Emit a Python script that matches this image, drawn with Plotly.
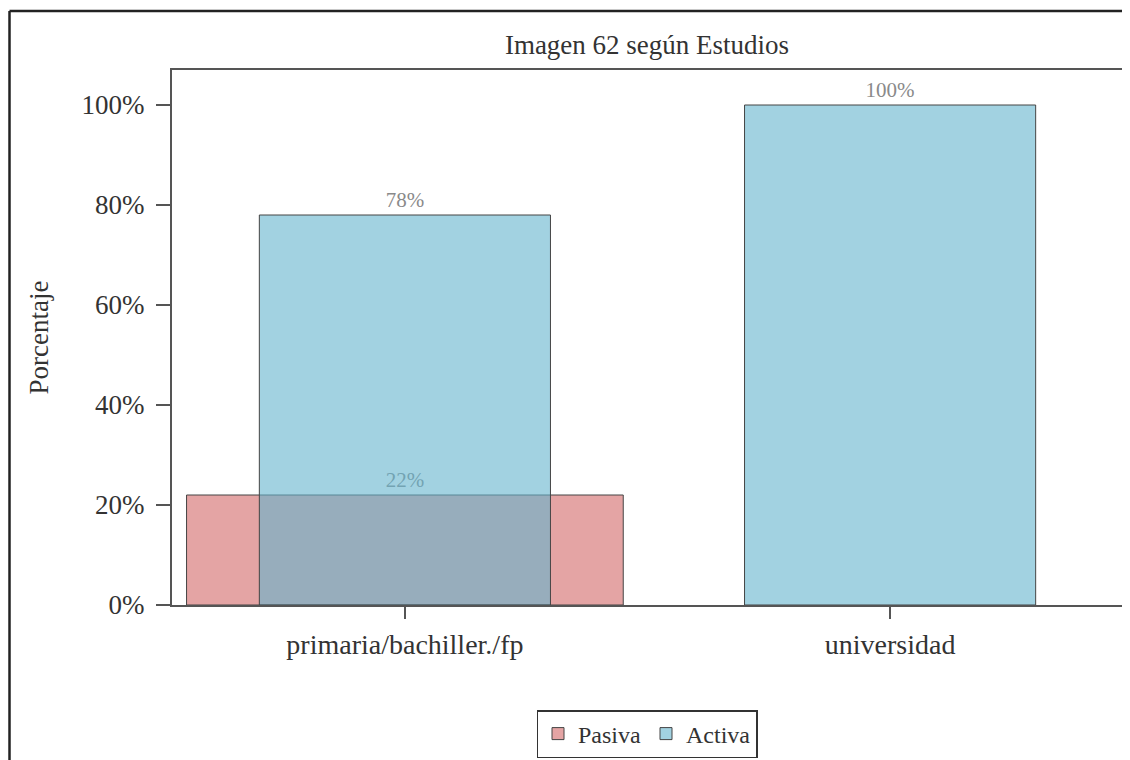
import plotly.graph_objects as go

categories = ["primaria/bachiller./fp", "universidad"]
pasiva = [0.22, None]
activa = [0.78, 1.00]
series_names = ["Pasiva", "Activa"]
title_text = "Imagen 62 según Estudios"
y_title = "Porcentaje"
y_ticks = [0, 0.2, 0.4, 0.6, 0.8, 1.0]

FONT = "Liberation Serif, Times New Roman, serif"

# page body has an 8px margin: figure pixel = reference pixel - 8
OFF = 8
W, H = 1130 - OFF, 760 - OFF
ml = 172 - OFF
mt = 70 - OFF
plot_right = 1123 - OFF
plot_bottom = 605 - OFF
mr = W - plot_right
mb = H - plot_bottom
pw, ph = W - ml - mr, H - mt - mb

def px_to_paper_x(px):
    return (px - OFF - ml) / pw

def px_to_paper_y(py):
    return (plot_bottom - (py - OFF)) / ph

fig = go.Figure()
fig.add_trace(go.Bar(
    x=categories, y=pasiva, name=series_names[0], width=0.9,
    marker=dict(color="rgba(205,90,90,0.55)", line=dict(color="#444", width=1)),
    texttemplate="%{y:.0%}", textposition="outside",
    textfont=dict(family=FONT, size=21, color="#8a8a8a"),
    cliponaxis=False,
))
fig.add_trace(go.Bar(
    x=categories, y=activa, name=series_names[1], width=0.6,
    marker=dict(color="rgba(100,180,205,0.6)", line=dict(color="#444", width=1)),
    texttemplate="%{y:.0%}", textposition="outside",
    textfont=dict(family=FONT, size=21, color="#8a8a8a"),
    cliponaxis=False,
))

# outer border (left and top)
fig.add_shape(type="line", xref="paper", yref="paper",
              x0=px_to_paper_x(9.5), x1=px_to_paper_x(9.5),
              y0=px_to_paper_y(11), y1=px_to_paper_y(780),
              line=dict(color="#222", width=2.5))
fig.add_shape(type="line", xref="paper", yref="paper",
              x0=px_to_paper_x(9.5), x1=px_to_paper_x(1140),
              y0=px_to_paper_y(11), y1=px_to_paper_y(11),
              line=dict(color="#222", width=2.5))

fig.update_layout(
    width=W, height=H,
    margin=dict(l=ml, r=mr, t=mt, b=mb, pad=0, autoexpand=False),
    barmode="overlay",
    paper_bgcolor="white", plot_bgcolor="white",
    font=dict(family=FONT, size=26, color="#333"),
    title=dict(text=title_text, x=(647 - OFF) / W, xanchor="center",
               y=1 - (45 - OFF) / H, yanchor="middle",
               font=dict(family=FONT, size=27, color="#333")),
    showlegend=True,
    legend=dict(orientation="h", x=px_to_paper_x(647), xanchor="center",
                y=px_to_paper_y(710), yanchor="top",
                bordercolor="#333", borderwidth=1.5,
                font=dict(family=FONT, size=24, color="#333"),
                itemwidth=30, traceorder="normal"),
    xaxis=dict(
        type="category", range=[-0.48, 1.48],
        showline=True, linecolor="#555", linewidth=2, mirror=True,
        ticks="outside", ticklen=12, tickcolor="#555", tickwidth=1.5,
        ticklabelstandoff=1,
        showgrid=False, tickfont=dict(family=FONT, size=28, color="#333"),
    ),
    yaxis=dict(
        range=[0, 1.07], tickvals=y_ticks, tickformat=".0%",
        showline=True, linecolor="#555", linewidth=2, mirror=True,
        ticks="outside", ticklen=14, tickcolor="#555", tickwidth=1.5,
        ticklabelstandoff=6,
        showgrid=False, zeroline=False,
        tickfont=dict(family=FONT, size=27, color="#333"),
        title=dict(text=y_title, standoff=25,
                   font=dict(family=FONT, size=27, color="#333")),
    ),
)

fig.write_html("out.html")
